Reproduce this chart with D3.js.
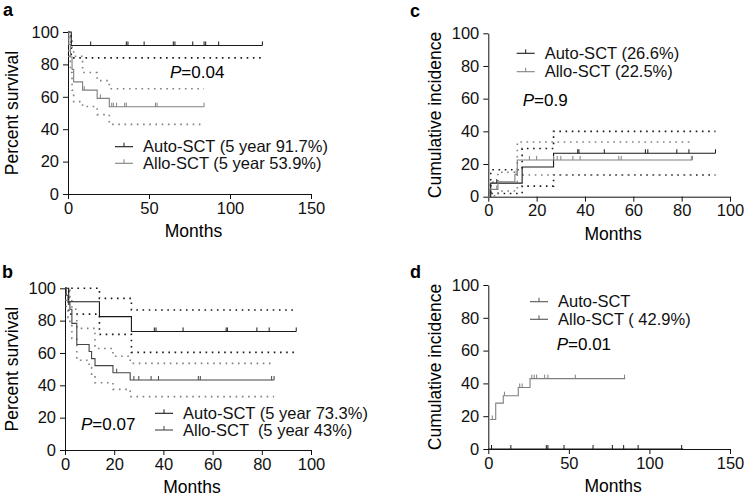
<!DOCTYPE html>
<html>
<head>
<meta charset="utf-8">
<script src="https://cdn.jsdelivr.net/npm/d3@7"></script>
<style>
  body { margin: 0; background: #fff; }
  svg { font-family: "Liberation Sans", Arial, Helvetica, sans-serif; }
</style>
</head>
<body>
<svg id="chart" width="750" height="500"></svg>
<script>
// ---- data (months, percent) ----
const yTicks = [0, 20, 40, 60, 80, 100];
const xTicks150 = [0, 50, 100, 150];
const xTicks100 = [0, 20, 40, 60, 80, 100];

// panel a: overall survival
const aAuto = [[0, 100], [2, 91.7], [120, 91.7]];
const aAutoCens = [14, 36, 37, 47, 65, 66, 77, 84, 85, 93, 120];
const aAutoLower = [[0, 100], [2, 84], [120, 84]];
const aAllo = [[0, 100], [0.5, 92.3], [1.5, 84.6], [2.5, 76.9], [3.5, 69.2], [9, 64.1], [18, 59], [25.5, 53.9], [84, 53.9]];
const aAlloCens = [10, 20, 27, 28, 30, 35, 36, 54, 55, 84];
const aAlloUpper = [[0, 100], [1.5, 97], [2.5, 90], [3.5, 85], [9, 75], [18, 70], [25.5, 65], [84, 65]];
const aAlloLower = [[0, 100], [0.5, 85], [1.5, 75], [2.5, 64], [3.5, 57], [9, 54], [18, 49], [25.5, 43], [84, 43]];

// panel b: survival
const bAuto = [[0, 100], [1.5, 91.7], [14, 82.5], [27, 73.3], [94, 73.3]];
const bAutoCens = [36.3, 37, 48, 65.5, 66, 78, 83, 94];
const bAutoUpper = [[0, 100], [14, 93.8], [27, 86.6], [94, 86.6]];
const bAutoLower = [[0, 100], [1.5, 84], [14, 71.5], [27, 60.4], [94, 60.4]];
const bAllo = [[0, 100], [0.5, 95.7], [1.2, 91.3], [2, 87], [2.8, 78.3], [4.8, 65.2], [9.8, 60.9], [10.8, 56.5], [12.2, 52.2], [19.5, 47.8], [26.5, 43.3], [85, 43.3]];
const bAlloCens = [21, 28, 30, 35, 38, 54.2, 55, 84, 85];
const bAlloUpper = [[0, 100], [1.2, 100], [2, 94], [2.8, 87], [4.8, 75.2], [12.2, 62.8], [19.5, 58], [26.5, 53.6], [85, 53.6]];
const bAlloLower = [[0, 100], [0.5, 88], [1.2, 82], [2, 78], [2.8, 69], [4.8, 55.5], [9.8, 51], [10.8, 46], [12.2, 41.6], [19.5, 37.5], [26.5, 33], [85, 33]];

// panel c: cumulative incidence
const cAuto = [[0, 0], [1, 8.3], [14, 18.2], [27, 26.6], [94, 26.6]];
const cAutoCens = [3.5, 37, 37.5, 48, 65, 66, 78, 83, 94];
const cAutoUpper = [[0, 0], [1, 16.5], [14, 29.5], [27, 40], [94, 40]];
const cAutoLower = [[0, 0], [1, 2], [14, 6.5], [27, 13.3], [94, 13.3]];
const cAllo = [[0, 0], [0.5, 4.5], [4, 9.1], [11, 13.6], [12, 22.5], [84.5, 22.5]];
const cAlloCens = [3.5, 11.5, 17, 20, 27, 28.5, 30, 35, 38, 54, 55, 84, 84.5];
const cAlloUpper = [[0, 0], [0.5, 9], [4, 15], [12, 33.5], [84.5, 33.5]];
const cAlloLower = [[0, 0], [0.5, 0.5], [4, 3.5], [12, 13.3], [84.5, 13.3]];

// panel d: cumulative incidence
const dAuto = [[0, 0], [121, 0]];
const dAutoCens = [2, 14, 36, 37, 47, 65, 77, 84, 93, 120];
const dAllo = [[1, 18], [4.6, 28], [9.3, 32.5], [18.6, 37.5], [25.9, 42.9], [85, 42.9]];
const dAlloCens = [2.5, 10, 19.5, 21, 27, 28.5, 30, 35, 37, 54, 84.5];

const svg = d3.select("#chart");
const BLACK = "#1a1a1a", GREY = "#808080";

function drawPanel(p) {
    const x = d3.scaleLinear().domain([0, p.xMax]).range([p.left, p.right]);
    const y = d3.scaleLinear().domain([0, 100]).range([p.bottom, p.top]);
    const g = svg.append("g");

    // panel letter
    g.append("text").attr("x", p.letterX).attr("y", p.letterY)
        .attr("font-size", "18px").attr("font-weight", "bold").text(p.letter);

    const xAxis = g.append("g")
        .attr("transform", `translate(0,${p.bottom})`)
        .call(d3.axisBottom(x).tickValues(p.xTicks).tickSize(5).tickSizeOuter(0).tickPadding(3));
    const yAxis = g.append("g")
        .attr("transform", `translate(${p.left},0)`)
        .call(d3.axisLeft(y).tickValues(yTicks).tickSize(5).tickSizeOuter(0).tickPadding(4));
    [xAxis, yAxis].forEach(a => {
        a.selectAll("text").attr("font-size", "16.5px").attr("fill", "#111")
            .attr("font-family", "Liberation Sans, Arial, sans-serif");
        a.selectAll("line,path").attr("stroke", "#111");
    });

    g.append("text")
        .attr("x", (p.left + p.right) / 2 + 4).attr("y", p.bottom + 43)
        .attr("text-anchor", "middle").attr("font-size", "17.5px").text("Months");
    g.append("text")
        .attr("transform", `translate(${p.titleX},${(p.top + p.bottom) / 2}) rotate(-90)`)
        .attr("text-anchor", "middle").attr("font-size", "17.5px").text(p.yTitle);

    const step = d3.line().x(d => x(d[0])).y(d => y(d[1])).curve(d3.curveStepAfter);

    // confidence bands as dotted steps
    p.cis.forEach(c => {
        g.append("path").datum(c.data)
            .attr("d", step).attr("fill", "none")
            .attr("stroke", c.color).attr("stroke-width", 1.6)
            .attr("stroke-dasharray", "1.6,4.6");
    });

    // survival / incidence curves with censor marks
    p.curves.forEach(c => {
        g.append("path").datum(c.data)
            .attr("d", step).attr("fill", "none")
            .attr("stroke", c.color).attr("stroke-width", 1.1);
        const bis = d3.bisector(d => d[0]).right;
        g.selectAll(null).data(c.cens).enter().append("line")
            .attr("x1", d => x(d)).attr("x2", d => x(d))
            .attr("y1", d => y(c.data[Math.max(0, bis(c.data, d) - 1)][1]) - 4)
            .attr("y2", d => y(c.data[Math.max(0, bis(c.data, d) - 1)][1]))
            .attr("stroke", c.color).attr("stroke-width", 1);
    });

    // legend
    p.legend.forEach((l, i) => {
        const ly = p.legY + i * p.legGap;
        g.append("line").attr("x1", p.legX).attr("x2", p.legX + 18)
            .attr("y1", ly).attr("y2", ly).attr("stroke", l.color).attr("stroke-width", 1.1);
        g.append("line").attr("x1", p.legX + 9).attr("x2", p.legX + 9)
            .attr("y1", ly - 4).attr("y2", ly).attr("stroke", l.color).attr("stroke-width", 1);
        g.append("text").attr("x", p.legX + 28).attr("y", ly + 5.5)
            .attr("font-size", "16.5px").attr("fill", "#111")
            .style("white-space", "pre").text(l.label);
    });

    const pt = g.append("text").attr("x", p.pX).attr("y", p.pY).attr("font-size", "17px");
    pt.append("tspan").attr("font-style", "italic").text("P");
    pt.append("tspan").text(p.pValue);
}

drawPanel({
    letter: "a", letterX: 3, letterY: 16,
    left: 68, right: 311, top: 32, bottom: 194, xMax: 150, xTicks: xTicks150,
    yTitle: "Percent survival", titleX: 18,
    curves: [
        { data: aAuto, cens: aAutoCens, color: BLACK },
        { data: aAllo, cens: aAlloCens, color: GREY }
    ],
    cis: [
        { data: aAutoLower, color: BLACK },
        { data: aAlloUpper, color: GREY },
        { data: aAlloLower, color: GREY }
    ],
    legX: 115, legY: 146.7, legGap: 16.6,
    legend: [
        { label: "Auto-SCT (5 year 91.7%)", color: BLACK },
        { label: "Allo-SCT (5 year 53.9%)", color: GREY }
    ],
    pX: 170, pY: 78, pValue: "=0.04"
});

drawPanel({
    letter: "c", letterX: 410, letterY: 17,
    left: 488.3, right: 730, top: 33.3, bottom: 196.7, xMax: 100, xTicks: xTicks100,
    yTitle: "Cumulative incidence", titleX: 441,
    curves: [
        { data: cAuto, cens: cAutoCens, color: BLACK },
        { data: cAllo, cens: cAlloCens, color: GREY }
    ],
    cis: [
        { data: cAutoUpper, color: BLACK },
        { data: cAutoLower, color: BLACK },
        { data: cAlloUpper, color: GREY },
        { data: cAlloLower, color: GREY }
    ],
    legX: 516.7, legY: 53.3, legGap: 18.4,
    legend: [
        { label: "Auto-SCT (26.6%)", color: BLACK },
        { label: "Allo-SCT (22.5%)", color: GREY }
    ],
    pX: 522.7, pY: 106, pValue: "=0.9"
});

drawPanel({
    letter: "b", letterX: 2, letterY: 278,
    left: 65, right: 311, top: 288.3, bottom: 450, xMax: 100, xTicks: xTicks100,
    yTitle: "Percent survival", titleX: 18,
    curves: [
        { data: bAuto, cens: bAutoCens, color: BLACK },
        { data: bAllo, cens: bAlloCens, color: "#444" }
    ],
    cis: [
        { data: bAutoUpper, color: BLACK },
        { data: bAutoLower, color: BLACK },
        { data: bAlloUpper, color: GREY },
        { data: bAlloLower, color: GREY }
    ],
    legX: 155, legY: 413.3, legGap: 16.7,
    legend: [
        { label: "Auto-SCT (5 year 73.3%)", color: BLACK },
        { label: "Allo-SCT  (5 year 43%)", color: "#444" }
    ],
    pX: 81, pY: 430, pValue: "=0.07"
});

drawPanel({
    letter: "d", letterX: 410, letterY: 278,
    left: 488.3, right: 730, top: 285, bottom: 449, xMax: 150, xTicks: xTicks150,
    yTitle: "Cumulative incidence", titleX: 441,
    curves: [
        { data: dAuto, cens: dAutoCens, color: BLACK },
        { data: dAllo, cens: dAlloCens, color: GREY }
    ],
    cis: [],
    legX: 530, legY: 301.7, legGap: 17.6,
    legend: [
        { label: "Auto-SCT", color: "#555" },
        { label: "Allo-SCT ( 42.9%)", color: "#555" }
    ],
    pX: 556.7, pY: 350, pValue: "=0.01"
});
</script>
</body>
</html>
